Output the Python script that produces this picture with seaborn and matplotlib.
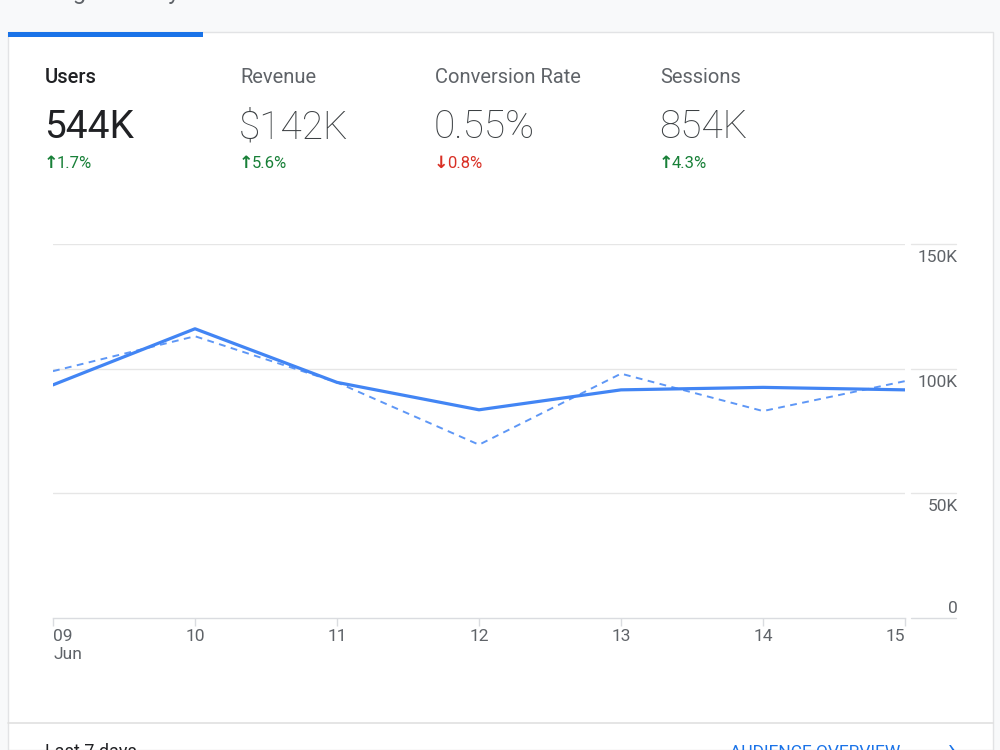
import numpy as np
import pandas as pd
import matplotlib
matplotlib.use("Agg")
import matplotlib.pyplot as plt
import matplotlib.transforms as mtransforms
from matplotlib.lines import Line2D
from matplotlib.patches import Rectangle
import seaborn as sns

# ---------------- data ----------------
days = ["09", "10", "11", "12", "13", "14", "15"]
day_labels = ["09\nJun", "10", "11", "12", "13", "14", "15"]
users_current = [93.5, 116.0, 94.5, 83.5, 91.5, 92.5, 91.5]      # thousands
users_previous = [99.0, 113.0, 94.5, 69.5, 98.0, 83.0, 95.0]     # thousands
y_ticks = [0, 50, 100, 150]
y_tick_labels = ["0", "50K", "100K", "150K"]

metric_names = ["Users", "Revenue", "Conversion Rate", "Sessions"]
metric_values = ["544K", "$142K", "0.55%", "854K"]
metric_changes = ["1.7%", "5.6%", "0.8%", "4.3%"]
metric_up = [True, True, False, True]

# ---------------- style ----------------
sns.set_theme(style="white")
plt.rcParams["font.family"] = ["Roboto", "DejaVu Sans"]

W, H = 1000, 750
fig = plt.figure(figsize=(10, 7.5), dpi=100)
fig.patch.set_facecolor("#f8f9fa")


def fx(x):
    return x / W


def fy(y):
    return 1 - y / H


# card
fig.patches.append(Rectangle((fx(8), 0), fx(993) - fx(8), fy(32), transform=fig.transFigure,
                             facecolor="white", edgecolor="#e2e3e5", linewidth=1.0, zorder=-2))
# selected tab bar
fig.patches.append(Rectangle((fx(8), fy(37)), fx(203) - fx(8), fy(32) - fy(37), transform=fig.transFigure,
                             facecolor="#1a73e8", edgecolor="none", zorder=-1))
# bottom separator
fig.lines.append(Line2D([fx(8), fx(993)], [fy(723), fy(723)], transform=fig.transFigure,
                        color="#e0e0e0", linewidth=1.2, zorder=-1))

# clipped page header
fig.text(fx(45), fy(-1), "Page activity", fontsize=17, color="#5f6368", va="baseline", ha="left")

# metric header
xs = [45, 240, 435, 660]
for i, (n, v, c, up) in enumerate(zip(metric_names, metric_values, metric_changes, metric_up)):
    x = xs[i]
    fig.text(fx(x), fy(83), n, fontsize=14.5, color="#202124" if i == 0 else "#5f6368",
             va="baseline", ha="left", fontweight="medium" if i == 0 else "normal")
    fig.text(fx(x - 1), fy(138), v, fontsize=28, color="#202124" if i == 0 else "#3c4043",
             va="baseline", ha="left", fontweight="normal" if i == 0 else "light")
    col = "#188038" if up else "#d93025"
    fig.text(fx(x - 1), fy(168), "\u2191" if up else "\u2193", fontsize=12.5, color=col,
             va="baseline", ha="left", fontweight="bold", family=["DejaVu Sans"])
    fig.text(fx(x + 12), fy(168), c, fontsize=12, color=col, va="baseline", ha="left")

# footer (clipped at the bottom edge, as in the reference)
fig.text(fx(45), fy(757), "Last 7 days", fontsize=13, color="#202124", va="baseline", ha="left")
fig.text(fx(730), fy(757), "AUDIENCE OVERVIEW", fontsize=12.5, color="#1a73e8", va="baseline", ha="left")
fig.text(fx(948), fy(757), "\u203a", fontsize=18, color="#1a73e8", va="baseline", ha="left")

# ---------------- chart ----------------
left, right, top, bottom = 53, 905, 244, 618
ax = fig.add_axes([fx(left), fy(bottom), fx(right) - fx(left), fy(top) - fy(bottom)])
ax.set_facecolor("none")
ax.set_zorder(2)

x_pos = np.arange(len(days))
df = pd.DataFrame({"x": np.concatenate([x_pos, x_pos]),
                   "value": np.concatenate([users_previous, users_current]),
                   "period": ["previous"] * len(days) + ["current"] * len(days)})

sns.lineplot(data=df[df.period == "previous"], x="x", y="value", ax=ax, color="#5e97f6",
             linewidth=1.4, zorder=3)
ax.lines[-1].set_linestyle((0, (3.5, 2.8)))
sns.lineplot(data=df[df.period == "current"], x="x", y="value", ax=ax, color="#4285f4",
             linewidth=2.3, zorder=4)

ax.set_xlim(0, len(days) - 1)
ax.set_ylim(0, 150)
ax.set_xlabel("")
ax.set_ylabel("")
for s in ["top", "right", "left"]:
    ax.spines[s].set_visible(False)
ax.spines["bottom"].set_color("#dadce0")
ax.spines["bottom"].set_linewidth(1.0)

# gridlines
ytr = ax.get_yaxis_transform()
x_ext0 = (911 - left) / (right - left)
x_ext1 = (956 - left) / (right - left)
for yv in y_ticks:
    if yv > 0:
        ax.axhline(yv, color="#e6e6e6", linewidth=1.0, zorder=1)
    ax.add_line(Line2D([x_ext0, x_ext1], [yv, yv], transform=ytr, color="#e6e6e6" if yv else "#dadce0",
                       linewidth=1.0, clip_on=False))

# y labels on the right
ax.set_yticks([])
lx = (958 - left) / (right - left)
for yv, lab in zip(y_ticks, y_tick_labels):
    if yv == 0:
        off = mtransforms.ScaledTranslation(0, 5 / 100, fig.dpi_scale_trans)
        ax.text(lx, yv, lab, transform=ytr + off, ha="right", va="baseline", fontsize=12.5, color="#5f6368")
    else:
        off = mtransforms.ScaledTranslation(0, -6 / 100, fig.dpi_scale_trans)
        ax.text(lx, yv, lab, transform=ytr + off, ha="right", va="top", fontsize=12.5, color="#5f6368")

# x ticks
ax.set_xticks(x_pos)
ax.set_xticklabels(day_labels, fontsize=12.5, color="#5f6368", linespacing=1.25)
ax.tick_params(axis="x", direction="out", length=6, width=1.0, color="#dadce0", pad=2, bottom=True)
labels = ax.get_xticklabels()
labels[0].set_ha("left")
labels[-1].set_ha("right")

fig.savefig("out.png", dpi=100, facecolor=fig.get_facecolor())
